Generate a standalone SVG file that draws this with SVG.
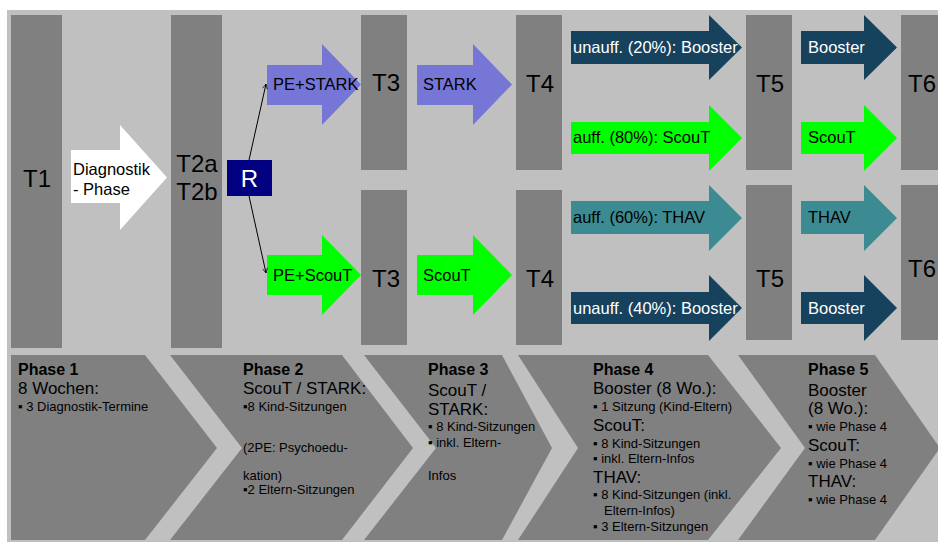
<svg xmlns="http://www.w3.org/2000/svg" width="938" height="542" viewBox="0 0 938 542">
<defs>
<style>
text{font-family:"Liberation Sans",Arial,"DejaVu Sans",sans-serif;fill:#000}
.bar{fill:#808080}
.tl{font-size:24px;text-anchor:middle}
.lbl{font-size:16.5px}
.wl{fill:#fff}
.boost{fill:#17425E}
.scout{fill:#00FF00}
.thav{fill:#3C8B92}
.stark{fill:#7676D6}
.chev{fill:#808080}
.ph{font-size:16px;font-weight:bold}
.sub{font-size:17px}
.sm{font-size:13px}
.conn{stroke:#000;stroke-width:1;fill:none}
</style>
<marker id="ah" viewBox="0 0 10 10" refX="9" refY="5" markerWidth="6" markerHeight="6" orient="auto" markerUnits="userSpaceOnUse">
<path d="M1,1 L9,5 L1,9" fill="none" stroke="#000" stroke-width="1.2"/>
</marker>
</defs>
<rect x="0" y="0" width="938" height="542" fill="#fff"/>
<rect x="7" y="10" width="931" height="532" fill="#C0C0C0"/>

<g id="T1"><rect class="bar" x="11" y="15" width="51" height="333"/><text class="tl" x="37" y="187">T1</text></g>
<g id="T2"><rect class="bar" x="171" y="15" width="51" height="333"/><text class="tl" x="197" y="172">T2a</text><text class="tl" x="197" y="200">T2b</text></g>
<g id="T3a"><rect class="bar" x="361" y="15" width="46" height="155"/><text class="tl" x="386" y="91">T3</text></g>
<g id="T3b"><rect class="bar" x="361" y="190" width="46" height="155"/><text class="tl" x="386" y="287">T3</text></g>
<g id="T4a"><rect class="bar" x="516" y="15" width="46" height="155"/><text class="tl" x="540" y="92">T4</text></g>
<g id="T4b"><rect class="bar" x="516" y="190" width="46" height="155"/><text class="tl" x="540" y="287">T4</text></g>
<g id="T5a"><rect class="bar" x="746" y="15" width="46" height="155"/><text class="tl" x="770" y="92">T5</text></g>
<g id="T5b"><rect class="bar" x="746" y="185" width="46" height="155"/><text class="tl" x="770" y="287">T5</text></g>
<g id="T6a"><rect class="bar" x="901" y="15" width="40" height="155"/><text class="tl" x="922" y="92">T6</text></g>
<g id="T6b"><rect class="bar" x="901" y="185" width="40" height="155"/><text class="tl" x="922" y="277">T6</text></g>

<g id="diag"><polygon class="wl" points="71,150 120,150 120,125 167,177.5 120,230 120,203 71,203"/><text class="lbl" x="73" y="175">Diagnostik</text><text class="lbl" x="73" y="195">- Phase</text></g>

<g id="R"><rect x="227" y="160" width="45" height="36" fill="#000080"/><text x="249.5" y="187" font-size="24px" text-anchor="middle" style="fill:#fff">R</text></g>

<g id="pe-stark"><polygon class="stark" points="267,65 322,65 322,44 361,84.5 322,125 322,105 267,105"/><text class="lbl" x="273" y="90">PE+STARK</text></g>
<g id="pe-scout"><polygon class="scout" points="267,255 322,255 322,235 361,275 322,315 322,295 267,295"/><text class="lbl" x="273" y="281">PE+ScouT</text></g>
<g id="stark3"><polygon class="stark" points="417,65 473,65 473,44 512,84.5 473,125 473,105 417,105"/><text class="lbl" x="423" y="90">STARK</text></g>
<g id="scout3"><polygon class="scout" points="417,255 473,255 473,235 512,275 473,315 473,295 417,295"/><text class="lbl" x="423" y="281">ScouT</text></g>

<g id="p4-boost20"><polygon class="boost" points="571,31 709,31 709,15 742,47.5 709,80 709,64 571,64"/><text class="lbl wl" x="573" y="53">unauff. (20%): Booster</text></g>
<g id="p4-scout80"><polygon class="scout" points="571,122 709,122 709,105 742,138 709,171 709,154 571,154"/><text class="lbl" x="573" y="143">auff. (80%): ScouT</text></g>
<g id="p4-thav60"><polygon class="thav" points="571,201 709,201 709,185 742,218 709,251 709,234 571,234"/><text class="lbl" x="573" y="223">auff. (60%): THAV</text></g>
<g id="p4-boost40"><polygon class="boost" points="571,292 709,292 709,275 742,308 709,341 709,324 571,324"/><text class="lbl wl" x="573" y="314">unauff. (40%): Booster</text></g>

<g id="p5-boost1"><polygon class="boost" points="801,31 864,31 864,15 897,47.5 864,80 864,64 801,64"/><text class="lbl wl" x="808" y="53">Booster</text></g>
<g id="p5-scout"><polygon class="scout" points="801,122 864,122 864,105 897,138 864,171 864,154 801,154"/><text class="lbl" x="808" y="143">ScouT</text></g>
<g id="p5-thav"><polygon class="thav" points="801,201 864,201 864,185 897,218 864,251 864,234 801,234"/><text class="lbl" x="808" y="223">THAV</text></g>
<g id="p5-boost2"><polygon class="boost" points="801,292 864,292 864,275 897,308 864,341 864,324 801,324"/><text class="lbl wl" x="808" y="314">Booster</text></g>

<g id="connectors">
<line class="conn" x1="249" y1="160" x2="266" y2="84" marker-end="url(#ah)"/>
<line class="conn" x1="249" y1="196" x2="266" y2="273" marker-end="url(#ah)"/>
</g>

<g id="phase1"><polygon class="chev" points="11,355 145,355 217,448 145,540 11,540"/>
<text class="ph" x="18" y="375">Phase 1</text>
<text class="sub" x="18" y="394">8 Wochen:</text>
<text class="sm" x="18" y="411">▪ 3 Diagnostik-Termine</text></g>

<g id="phase2"><polygon class="chev" points="170,355 342,355 413,448 342,540 170,540 242,448"/>
<text class="ph" x="243" y="375">Phase 2</text>
<text class="sub" x="243" y="394">ScouT / STARK:</text>
<text class="sm" x="243" y="411">▪8 Kind-Sitzungen</text>
<text class="sm" x="243" y="452">(2PE: Psychoedu-</text>
<text class="sm" x="243" y="480">kation)</text>
<text class="sm" x="243" y="494">▪2 Eltern-Sitzungen</text></g>

<g id="phase3"><polygon class="chev" points="364,355 502,355 552,448 502,540 364,540 436,448"/>
<text class="ph" x="428" y="375">Phase 3</text>
<text class="sub" x="428" y="396">ScouT /</text>
<text class="sub" x="428" y="415">STARK:</text>
<text class="sm" x="428" y="431">▪ 8 Kind-Sitzungen</text>
<text class="sm" x="428" y="447">▪ inkl. Eltern-</text>
<text class="sm" x="428" y="480">Infos</text></g>

<g id="phase4"><polygon class="chev" points="518,355 708,355 781,448 708,540 518,540 578,448"/>
<text class="ph" x="593" y="375">Phase 4</text>
<text class="sub" x="593" y="394">Booster (8 Wo.):</text>
<text class="sm" x="593" y="411">▪ 1 Sitzung (Kind-Eltern)</text>
<text class="sub" x="593" y="431">ScouT:</text>
<text class="sm" x="593" y="448">▪ 8 Kind-Sitzungen</text>
<text class="sm" x="593" y="463">▪ inkl. Eltern-Infos</text>
<text class="sub" x="593" y="483">THAV:</text>
<text class="sm" x="593" y="499">▪ 8 Kind-Sitzungen (inkl.</text>
<text class="sm" x="604" y="515">Eltern-Infos)</text>
<text class="sm" x="593" y="531">▪ 3 Eltern-Sitzungen</text></g>

<g id="phase5"><polygon class="chev" points="738,355 875,355 940,448 875,540 738,540 805,448"/>
<text class="ph" x="808" y="375">Phase 5</text>
<text class="sub" x="808" y="396">Booster</text>
<text class="sub" x="808" y="414">(8 Wo.):</text>
<text class="sm" x="808" y="431">▪ wie Phase 4</text>
<text class="sub" x="808" y="451">ScouT:</text>
<text class="sm" x="808" y="468">▪ wie Phase 4</text>
<text class="sub" x="808" y="487">THAV:</text>
<text class="sm" x="808" y="504">▪ wie Phase 4</text></g>
</svg>
